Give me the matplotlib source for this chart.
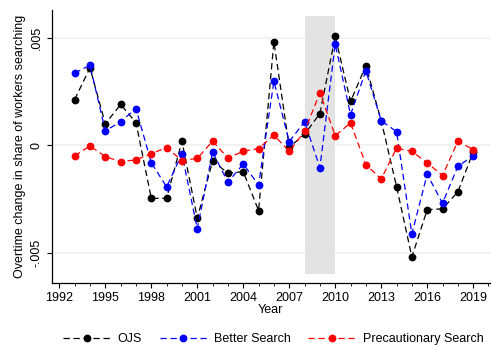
import matplotlib
matplotlib.use("Agg")
import matplotlib.pyplot as plt
import numpy as np

plt.rcParams['font.family'] = ['Liberation Sans', 'DejaVu Sans']

years = list(range(1993, 2020))
ojs = [0.00213, 0.00361, 0.00100, 0.00190, 0.00106, -0.00247, -0.00247, 0.00019, -0.00340,
       -0.00073, -0.00130, -0.00123, -0.00304, 0.00482, -0.00009, 0.00051, 0.00148, 0.00507,
       0.00204, 0.00371, 0.00115, -0.00192, -0.00520, -0.00300, -0.00296, -0.00217, -0.00031]
better = [0.00336, 0.00373, 0.00067, 0.00110, 0.00171, -0.00081, -0.00194, -0.00040, -0.00389,
          -0.00031, -0.00172, -0.00087, -0.00185, 0.00298, 0.00017, 0.00110, -0.00104, 0.00471,
          0.00143, 0.00347, 0.00114, 0.00064, -0.00413, -0.00135, -0.00270, -0.00098, -0.00049]
precaution = [-0.00049, -0.00003, -0.00053, -0.00076, -0.00068, -0.00039, -0.00011, -0.00071, -0.00061,
              0.00019, -0.00059, -0.00028, -0.00015, 0.00047, -0.00028, 0.00065, 0.00244, 0.00045,
              0.00104, -0.00090, -0.00157, -0.00014, -0.00028, -0.00082, -0.00141, 0.00019, -0.00020]
series_names = ["OJS", "Better Search", "Precautionary Search"]
xticks = list(range(1992, 2020, 3))
yticks = [-0.005, 0, 0.005]
ytick_labels = ["-.005", "0", ".005"]
shade_x = (2008, 2010)
shade_y = (-0.006, 0.006)

fig = plt.figure(figsize=(4.92, 3.46), dpi=100)
ax = fig.add_axes([0.105, 0.183, 0.891, 0.788])

ax.fill_between(shade_x, shade_y[0], shade_y[1], color='#e3e3e3', linewidth=0, zorder=1)
for yv in yticks:
    ax.axhline(yv, color='#f0f0f0', linewidth=1.2, zorder=0)

colors = ['black', 'blue', 'red']
for data, name, c in zip([ojs, better, precaution], series_names, colors):
    ax.plot(years, data, linestyle=(0, (5, 3)), color=c, linewidth=0.9, marker='o',
            markersize=4.6, markerfacecolor=c, markeredgecolor=c, label=name, zorder=3)

ax.set_xlim(1991.5, 2020.1)
ax.set_ylim(-0.0064, 0.0063)
ax.set_xticks(xticks)
ax.set_xticks(range(1992, 2021), minor=True)
ax.set_yticks(yticks)
ax.set_yticklabels(ytick_labels, rotation=90, va='center')
ax.tick_params(axis='both', labelsize=9, length=3.5, width=0.8, color='black', pad=3)
ax.tick_params(axis='x', which='minor', length=2.2, width=0.6)
for s in ['top', 'right']:
    ax.spines[s].set_visible(False)
for s in ['left', 'bottom']:
    ax.spines[s].set_linewidth(0.9)
ax.set_xlabel("Year", fontsize=9, labelpad=0)
ax.set_ylabel("Overtime change in share of workers searching", fontsize=9, labelpad=3)

fig.legend(loc='lower center', bbox_to_anchor=(0.556, -0.03), ncol=3, frameon=False,
           fontsize=9, handlelength=3.8, columnspacing=1.4, handletextpad=0.55)

fig.savefig("out.png", dpi=100)
